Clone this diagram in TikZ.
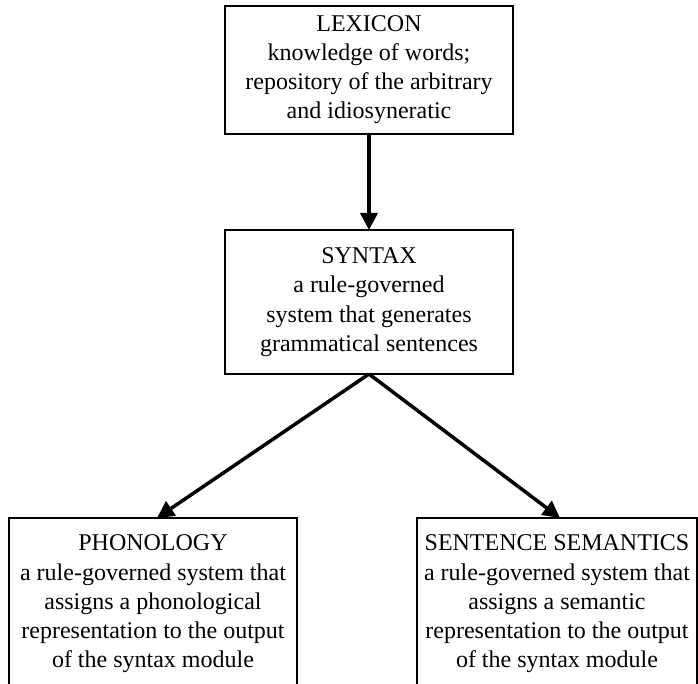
\documentclass[tikz,border=0pt]{standalone}
\usepackage{fontspec}
\setmainfont{Liberation Serif}
\usetikzlibrary{arrows.meta}
\begin{document}
\begin{tikzpicture}[x=0.5pt,y=-0.5pt,
  box/.style={draw, line width=1pt, align=center, inner sep=0pt, outer sep=0pt,
    font=\fontsize{12}{14.65}\selectfont},
  conn/.style={line width=1.75pt, -{Triangle[length=8.5pt,width=8.5pt]}}]
\useasboundingbox (0,0) rectangle (698,684);
\clip (0,0) rectangle (698,684);
\node[box, minimum width=144pt, minimum height=64pt] (lex) at (369,69.6)
  {LEXICON\\knowledge of words;\\repository of the arbitrary\\and idiosyneratic};
\node[box, minimum width=144pt, minimum height=72pt] (syn) at (369,302)
  {SYNTAX\\a rule-governed\\system that generates\\grammatical sentences};
\node[box, minimum width=144pt, minimum height=86pt] (pho) at (153,604)
  {PHONOLOGY\\a rule-governed system that\\assigns a phonological\\representation to the output\\of the syntax module};
\node[box, minimum width=140pt, minimum height=86pt] (sem) at (557,604)
  {SENTENCE SEMANTICS\\a rule-governed system that\\assigns a semantic\\representation to the output\\of the syntax module};
\draw[conn] (lex.south) -- (syn.north);
\draw[conn] (syn.south) -- ([xshift=2pt]pho.north);
\draw[conn] (syn.south) -- ([xshift=1.5pt]sem.north);
\end{tikzpicture}
\end{document}
